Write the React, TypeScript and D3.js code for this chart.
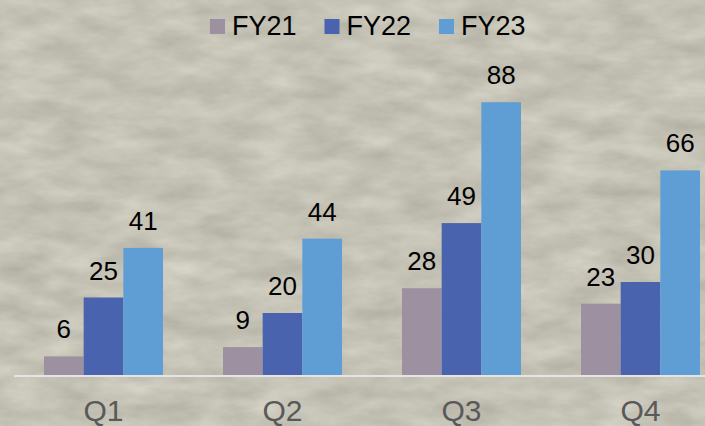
import React from "react";
import * as d3 from "d3";

// chart data
const quarters = ["Q1", "Q2", "Q3", "Q4"];
const seriesNames = ["FY21", "FY22", "FY23"];
const fy21 = [6, 9, 28, 23];
const fy22 = [25, 20, 49, 30];
const fy23 = [41, 44, 88, 66];
const seriesColors = ["#9d90a1", "#4963ae", "#5e9ed4"];

const W = 705;
const H = 426;
const baseY = 375;

export default function App() {
  const values = [fy21, fy22, fy23];

  // the last group runs off the right edge, like in the reference
  const x = d3.scaleBand().domain(quarters).range([14, 14 + 4 * 179]).padding(0);
  const xInner = d3.scaleBand().domain(seriesNames).range([30, 149]).padding(0);
  const y = d3.scaleLinear().domain([0, 100]).range([baseY, baseY - 310]);

  const font = "'Liberation Sans', Arial, sans-serif";

  return (
    <div style={{ position: "fixed", left: 0, top: 0, width: W, height: H }}>
      <svg width={W} height={H} style={{ display: "block" }}>
        <defs>
          <filter id="stone" x="0" y="0" width="100%" height="100%" colorInterpolationFilters="sRGB">
            <feTurbulence type="fractalNoise" baseFrequency="0.02 0.05" numOctaves={4} seed={7} />
            <feColorMatrix
              type="matrix"
              values="0.18 0 0 0 0.68  0.18 0 0 0 0.67  0.18 0 0 0 0.62  0 0 0 0 1"
            />
          </filter>
        </defs>
        <rect width={W} height={H} fill="#c3c0b4" />
        <rect width={W} height={H} filter="url(#stone)" />

        {/* legend */}
        <g fontFamily={font} fontSize={27} fill="#000">
          {seriesNames.map((s, i) => (
            <g key={s} transform={`translate(${210 + i * 114.5},0)`}>
              <rect x={0} y={19} width={15} height={15} fill={seriesColors[i]} />
              <text x={22} y={35}>{s}</text>
            </g>
          ))}
        </g>

        {/* bars */}
        {quarters.map((q, qi) => (
          <g key={q} transform={`translate(${x(q)},0)`}>
            {seriesNames.map((s, si) => {
              const v = values[si][qi];
              return (
                <rect
                  key={s}
                  x={xInner(s)}
                  y={y(v)}
                  width={xInner.bandwidth()}
                  height={baseY - y(v)}
                  fill={seriesColors[si]}
                />
              );
            })}
          </g>
        ))}

        {/* value labels */}
        <g fontFamily={font} fontSize={26} fill="#000" textAnchor="middle">
          {quarters.map((q, qi) =>
            seriesNames.map((s, si) => {
              const v = values[si][qi];
              return (
                <text
                  key={q + s}
                  x={(x(q) as number) + (xInner(s) as number) + xInner.bandwidth() / 2}
                  y={y(v) - 18}
                >
                  {v}
                </text>
              );
            })
          )}
        </g>

        {/* x axis */}
        <line x1={x.range()[0]} x2={W} y1={baseY + 1} y2={baseY + 1} stroke="#e4e4e4" strokeWidth={2} />
        <g fontFamily={font} fontSize={30} fill="#595959" textAnchor="middle">
          {quarters.map((q) => (
            <text key={q} x={(x(q) as number) + x.bandwidth() / 2} y={421}>
              {q}
            </text>
          ))}
        </g>
      </svg>
    </div>
  );
}
